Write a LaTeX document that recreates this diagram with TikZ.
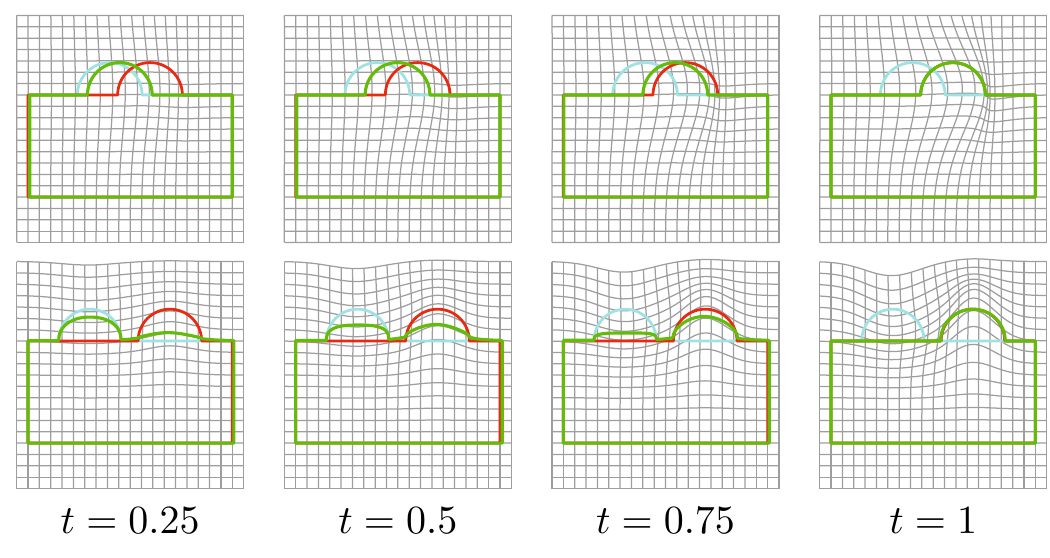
\documentclass[tikz,border=0pt]{standalone}
\usetikzlibrary{positioning}

\definecolor{gridgray}{RGB}{158,158,158}
\definecolor{srccyan}{RGB}{160,226,228}
\definecolor{tgtred}{RGB}{232,42,18}
\definecolor{curgreen}{RGB}{98,188,8}

% one warped 20x20 grid, #1 = top or bot
\newcommand{\warpgrid}[1]{%
  \foreach \i in {0,...,20}{
    \draw[gridline] plot[variable=\s,domain=0:20,samples=41,smooth]
      ({\i+#1x(\i,\s)},{\s+#1y(\i,\s)});
    \draw[gridline] plot[variable=\s,domain=0:20,samples=41,smooth]
      ({\s+#1x(\s,\i)},{\i+#1y(\s,\i)});
  }}

\begin{document}
\begin{tikzpicture}[
  x=0.4pt,y=-0.4pt,
  gridline/.style={gridgray,line width=0.5pt},
  srcshape/.style={srccyan,line width=1.1pt,line join=round},
  tgtshape/.style={tgtred,line width=1.1pt,line join=round},
  curshape/.style={curgreen,line width=1.25pt,line join=round},
  tlabel/.style={inner sep=0pt},
  declare function={
    topx(\x,\y)=\tval*2.7*exp(-((\x-11.2)*(\x-11.2)/ifthenelse(\x<11.2,28.9,8)
                 +(\y-13.3)*(\y-13.3)/28.9));
    topy(\x,\y)=-\tval*0.5*(\x-12)/2.5*exp(-((\x-13)*(\x-13)/10+(\y-12)*(\y-12)/12));
    botx(\x,\y)=\tval*0.6*exp(-((\x-9.5)*(\x-9.5)/8+(\y-15)*(\y-15)/14));
    boty(\x,\y)=\tval*(2.8*exp(-((\x-13.5)*(\x-13.5)/7.2+(\y-13.8)*(\y-13.8)/15.7))
                 -1.8*exp(-((\x-6.3)*(\x-6.3)/10.6+(\y-17)*(\y-17)/24.5)));
    semi(\u)=sqrt(max(0,1-\u*\u));
    lefthump(\x)=pow(max(0.0001,1-pow(min(abs((\x-6.45)/2.75),2),\pw)),1/\pw);
    gbot(\x)=13+2.8*((1-\tval)*lefthump(\x)
              +\tval*((1-\tval)*exp(-(\x-13.3)*(\x-13.3)/8)+\tval*semi((\x-13.5)/2.85)));
  }]
\useasboundingbox (0,0) rectangle (1050,558);

% top row: bump slides to the right
\foreach \k/\tval in {0/0.25,1/0.5,2/0.75,3/1}{
  \pgfmathsetmacro\gc{8.2+3.55*\tval}
  \pgfmathsetmacro\loff{1+0.2*(1-\tval)}
  \begin{scope}[shift={(16.65+267.67*\k,242.5)},x=4.54pt,y=4.54pt]
    \warpgrid{top}
    \draw[srcshape] (1,4) -- (1,13) -- plot[variable=\a,domain=180:0,samples=37]
      ({8.2+2.85*cos(\a)},{13+2.85*sin(\a)}) -- (19,13) -- (19,4) -- cycle;
    \draw[tgtshape] (1,4) -- (1,13) -- plot[variable=\a,domain=180:0,samples=37]
      ({11.75+2.85*cos(\a)},{13+2.85*sin(\a)}) -- (19,13) -- (19,4) -- cycle;
    \draw[curshape] (\loff,4) -- (\loff,13) -- plot[variable=\a,domain=180:0,samples=37]
      ({\gc+2.85*cos(\a)},{13+2.85*sin(\a)}) -- (19,13) -- (19,4) -- cycle;
  \end{scope}
}

% bottom row: left bump melts, right bump grows
\foreach \k/\tval in {0/0.25,1/0.5,2/0.75,3/1}{
  \pgfmathsetmacro\pw{2+3*\tval*\tval}
  \pgfmathsetmacro\roff{19+0.2*sin(180*\tval)}
  \begin{scope}[shift={(16.65+267.67*\k,488.5)},x=4.54pt,y=4.54pt]
    \warpgrid{bot}
    \draw[srcshape] (1,4) -- (1,13) -- plot[variable=\a,domain=180:0,samples=37]
      ({6.45+2.75*cos(\a)},{13+2.8*sin(\a)}) -- (19,13) -- (19,4) -- cycle;
    \draw[tgtshape] (1,4) -- (1,13) -- plot[variable=\a,domain=180:0,samples=37]
      ({13.5+2.8*cos(\a)},{13+2.8*sin(\a)}) -- (19,13) -- (19,4) -- cycle;
    \draw[curshape] (1,4) -- plot[variable=\s,domain=1:19,samples=361] (\s,{gbot(\s)})
      -- (\roff,13) -- (\roff,4) -- cycle;
  \end{scope}
  \node[tlabel] (lab\k) at (130.15+267.67*\k,521) {\scalebox{1.6}{$t=\tval$}};
}
\end{tikzpicture}
\end{document}
